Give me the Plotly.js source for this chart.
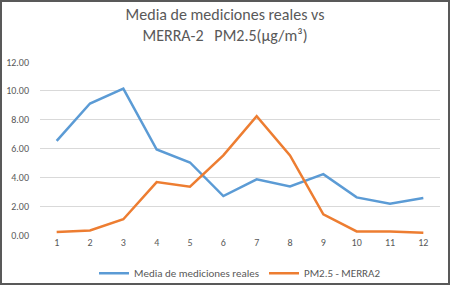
<!DOCTYPE html>
<html>
<head>
<meta charset="utf-8">
<script src="https://cdn.plot.ly/plotly-3.0.1.min.js"></script>
<style>
html,body{margin:0;padding:0;background:#fff;}
#chart{width:450px;height:285px;box-sizing:border-box;border:2px solid #595959;}
</style>
</head>
<body>
<div id="chart"></div>
<script>
const months = [1,2,3,4,5,6,7,8,9,10,11,12];
const mediaReales = [6.53,9.12,10.16,5.93,5.03,2.70,3.86,3.37,4.22,2.61,2.17,2.56];
const merra2 = [0.21,0.32,1.09,3.67,3.35,5.52,8.24,5.52,1.43,0.25,0.25,0.16];
const seriesNames = ["Media de mediciones reales","PM2.5 - MERRA2"];
const yTicks = [0,2,4,6,8,10,12];

const font = "Carlito, Calibri, 'Noto Sans', 'Liberation Sans', sans-serif";
const traces = [
  {x: months.map(String), y: mediaReales, name: seriesNames[0], type: 'scatter', mode: 'lines',
   line: {color: '#5B9BD5', width: 2.5}},
  {x: months.map(String), y: merra2, name: seriesNames[1], type: 'scatter', mode: 'lines',
   line: {color: '#ED7D31', width: 2.5}}
];
const layout = {
  width: 446, height: 281,
  margin: {l: 38, r: 8, t: 60, b: 48},
  paper_bgcolor: '#fff', plot_bgcolor: '#fff',
  font: {family: font, color: '#595959', size: 10},
  title: {text: 'Media de mediciones reales vs<br>MERRA-2   PM2.5(µg/m³)', x: 0.5, xanchor: 'center',
          yref: 'container', y: 0.935, yanchor: 'bottom', font: {size: 16, color: '#595959', family: font}},
  xaxis: {type: 'category', range: [-0.5, 11.5], showgrid: false, zeroline: false, showline: false, ticks: '',
          tickfont: {size: 10, color: '#595959'}},
  yaxis: {range: [0, 12], tickvals: yTicks, ticktext: yTicks.map(v => v.toFixed(2)),
          showgrid: true, gridcolor: '#d9d9d9', gridwidth: 1, zeroline: false, showline: false,
          ticks: '', ticklabelstandoff: 10, tickfont: {size: 10, color: '#595959'}},
  legend: {orientation: 'h', x: 0.5, xanchor: 'center', yref: 'container', y: 0.035, yanchor: 'middle',
           font: {size: 11, color: '#595959'}},
  showlegend: true
};
Plotly.newPlot('chart', traces, layout, {displayModeBar: false, staticPlot: true});
</script>
</body>
</html>
